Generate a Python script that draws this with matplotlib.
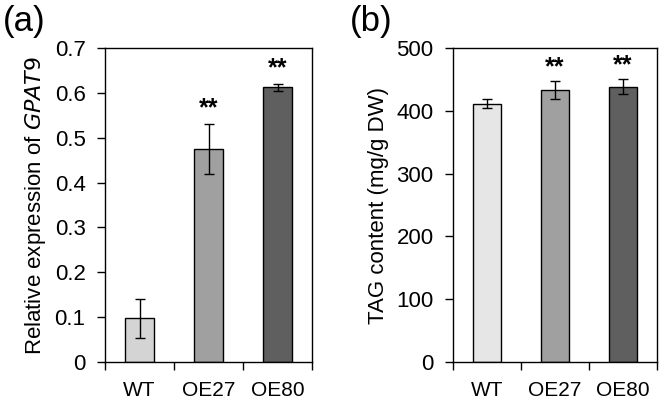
import matplotlib
matplotlib.use("Agg")
import matplotlib.pyplot as plt
import numpy as np

plt.rcParams['font.family'] = ['Liberation Sans', 'DejaVu Sans']

# data
lines = ['WT', 'OE27', 'OE80']
expr = [0.097, 0.475, 0.612]
expr_err = [0.044, 0.056, 0.007]
tag = [411, 433, 438]
tag_err = [7, 14, 12]
colors_a = ['#d4d4d4', '#a0a0a0', '#5f5f5f']
colors_b = ['#e6e6e6', '#a0a0a0', '#5f5f5f']
signif = ['', '**', '**']

fig = plt.figure(figsize=(6.72, 4.09), dpi=100)
ax1 = fig.add_axes([105/672, 1 - 362/409, 207/672, 314/409])
ax2 = fig.add_axes([453/672, 1 - 362/409, 204/672, 314/409])


def draw(ax, vals, errs, cols, ymax, step, ylab, star_off):
    x = np.arange(len(lines))
    ax.bar(x, vals, width=0.41, color=cols, edgecolor='black', linewidth=1.0, zorder=2)
    ax.errorbar(x, vals, yerr=errs, fmt='none', ecolor='black', elinewidth=1.0,
                capsize=3.5, capthick=1.0, zorder=3)
    for xi, v, e, s in zip(x, vals, errs, signif):
        if s:
            ax.text(xi, v + e + star_off, s, ha='center', va='bottom', fontsize=18,
                    fontweight='bold')
    ax.set_xlim(-0.5, 2.5)
    ax.set_ylim(0, ymax)
    ax.set_yticks(np.arange(0, ymax + step / 2, step))
    ax.set_xticks([-0.5, 0.5, 1.5, 2.5])
    ax.set_xticklabels([])
    ax.set_xticks(x, minor=True)
    ax.set_xticklabels(lines, minor=True)
    ax.tick_params(axis='x', which='major', direction='out', length=6, width=1)
    ax.tick_params(axis='x', which='minor', length=0, pad=14, labelsize=15)
    ax.tick_params(axis='y', direction='out', length=6, width=1, labelsize=16, pad=8)
    for sp in ax.spines.values():
        sp.set_linewidth(1.0)
    ax.set_ylabel(ylab, fontsize=16, labelpad=5)


draw(ax1, expr, expr_err, colors_a, 0.7, 0.1, 'Relative expression of $\\mathit{GPAT9}$', 0.008)
ax1.set_yticklabels(['0', '0.1', '0.2', '0.3', '0.4', '0.5', '0.6', '0.7'])
draw(ax2, tag, tag_err, colors_b, 500, 100, 'TAG content (mg/g DW)', 3)

fig.text(3/672, 1 - 22/409, '(a)', fontsize=25, va='center')
fig.text(350/672, 1 - 22/409, '(b)', fontsize=25, va='center')

fig.savefig('out.png', dpi=100)
